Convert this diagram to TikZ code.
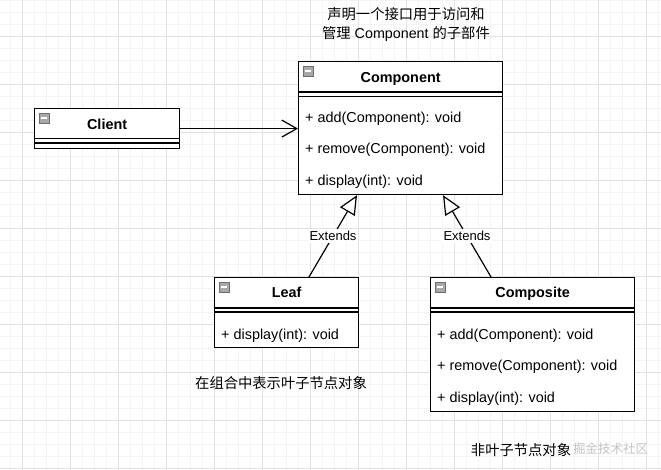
\documentclass[tikz,border=0pt]{standalone}
\usepackage{fontspec}
\setmainfont{Liberation Sans}
\newfontfamily\cjk{Noto Sans CJK SC}
\usetikzlibrary{arrows.meta}
\definecolor{gridmajor}{HTML}{E2E2E2}
\definecolor{gridminor}{HTML}{F4F4F4}
\definecolor{iconfill}{HTML}{A8A8A8}
\definecolor{iconline}{HTML}{6E6E6E}
\definecolor{wmark}{HTML}{C4C4C4}
\tikzset{
  umlbox/.style={draw=black, line width=1.2pt, fill=white, inner sep=0pt, anchor=north west},
  boxline/.style={draw=black, line width=1.2pt},
  classtitle/.style={font=\fontsize{14.4}{16}\selectfont\bfseries, inner sep=0pt, anchor=base},
  meth/.style={font=\fontsize{14.4}{16}\selectfont, inner sep=0pt, anchor=base west},
  icon/.style={draw=iconline, fill=iconfill, line width=0.6pt, minimum size=10pt, inner sep=0pt,
    path picture={\draw[white, line width=1.4pt] ([xshift=2pt]path picture bounding box.west) -- ([xshift=-2pt]path picture bounding box.east);}},
  note/.style={font=\fontsize{14.3}{19}\selectfont, inner sep=0pt, align=center},
  extlabel/.style={font=\fontsize{13}{15}\selectfont, fill=white, inner sep=2pt},
  assoc/.style={draw=black, line width=1.2pt, -{Straight Barb[length=15pt,width=17pt,line width=1.2pt]}},
  extends/.style={draw=black, line width=1.2pt, -{Triangle[open, length=19pt, width=17pt, line width=1.2pt, fill=white]}}
}
\begin{document}
\begin{tikzpicture}[x=1pt,y=-1pt]
\useasboundingbox (0,0) rectangle (661,470);
\fill[white] (0,0) rectangle (661,470);
% grid
\foreach \gx in {10,22,...,661} {\draw[gridminor, line width=0.6pt] (\gx,0) -- (\gx,470);}
\foreach \gy in {0,12,...,470} {\draw[gridminor, line width=0.6pt] (0,\gy) -- (661,\gy);}
\foreach \gx in {22,70,...,661} {\draw[gridmajor, line width=0.8pt] (\gx,0) -- (\gx,470);}
\foreach \gy in {36,84,...,470} {\draw[gridmajor, line width=0.8pt] (0,\gy) -- (661,\gy);}

% Component
\node[umlbox, minimum width=204pt, minimum height=133pt] (comp) at (298,61) {};
\draw[boxline] ([yshift=-31pt]comp.north west) -- ([yshift=-31pt]comp.north east);
\draw[boxline] ([yshift=-35.5pt]comp.north west) -- ([yshift=-35.5pt]comp.north east);
\node[icon] (compicon) at ([xshift=10pt,yshift=-10pt]comp.north west) {};
\node[classtitle] (comptitle) at ([yshift=-21.5pt]comp.north) {Component};
\node[meth] (compm1) at ([xshift=7pt,yshift=-62pt]comp.north west) {+ add(Component): void};
\node[meth] (compm2) at ([xshift=7pt,yshift=-93pt]comp.north west) {+ remove(Component): void};
\node[meth] (compm3) at ([xshift=7pt,yshift=-125pt]comp.north west) {+ display(int): void};

% Client
\node[umlbox, minimum width=145pt, minimum height=40pt] (client) at (34,108) {};
\draw[boxline] ([yshift=-30.5pt]client.north west) -- ([yshift=-30.5pt]client.north east);
\draw[boxline] ([yshift=-35pt]client.north west) -- ([yshift=-35pt]client.north east);
\node[icon] (clienticon) at ([xshift=10pt,yshift=-10pt]client.north west) {};
\node[classtitle] (clienttitle) at ([yshift=-22pt]client.north) {Client};

% Leaf
\node[umlbox, minimum width=144pt, minimum height=70pt] (leaf) at (214,277) {};
\draw[boxline] ([yshift=-31pt]leaf.north west) -- ([yshift=-31pt]leaf.north east);
\draw[boxline] ([yshift=-35pt]leaf.north west) -- ([yshift=-35pt]leaf.north east);
\node[icon] (leaficon) at ([xshift=10pt,yshift=-10pt]leaf.north west) {};
\node[classtitle] (leaftitle) at ([yshift=-21pt]leaf.north) {Leaf};
\node[meth] (leafm1) at ([xshift=7pt,yshift=-62pt]leaf.north west) {+ display(int): void};

% Composite
\node[umlbox, minimum width=204pt, minimum height=134pt] (compo) at (430,277) {};
\draw[boxline] ([yshift=-31pt]compo.north west) -- ([yshift=-31pt]compo.north east);
\draw[boxline] ([yshift=-35pt]compo.north west) -- ([yshift=-35pt]compo.north east);
\node[icon] (compoicon) at ([xshift=10pt,yshift=-10pt]compo.north west) {};
\node[classtitle] (compotitle) at ([yshift=-21pt]compo.north) {Composite};
\node[meth] (compom1) at ([xshift=7pt,yshift=-62pt]compo.north west) {+ add(Component): void};
\node[meth] (compom2) at ([xshift=7pt,yshift=-93.5pt]compo.north west) {+ remove(Component): void};
\node[meth] (compom3) at ([xshift=7pt,yshift=-125pt]compo.north west) {+ display(int): void};

% connectors
\draw[assoc] (client.east) -- (comp.west |- client.east);
\draw[extends] ([xshift=95pt]leaf.north west) -- node[extlabel] (ext1) {Extends} ([xshift=59pt]comp.south west);
\draw[extends] ([xshift=61pt]compo.north west) -- node[extlabel] (ext2) {Extends} ([xshift=145pt]comp.south west);

% notes
\node[note] (note1) at (406,24.5) {{\cjk 声明一个接口用于访问和}\\{\cjk 管理} Component {\cjk 的子部件}};
\node[note, font=\cjk\fontsize{14.3}{19}\selectfont] (note2) at (281,383) {在组合中表示叶子节点对象};
\node[note, font=\cjk\fontsize{14.3}{19}\selectfont] (note3) at (521,450) {非叶子节点对象};
\node[font=\cjk\fontsize{12.5}{14}\selectfont, text=wmark, inner sep=0pt, anchor=west] (wm) at (573,449) {掘金技术社区};
\end{tikzpicture}
\end{document}
